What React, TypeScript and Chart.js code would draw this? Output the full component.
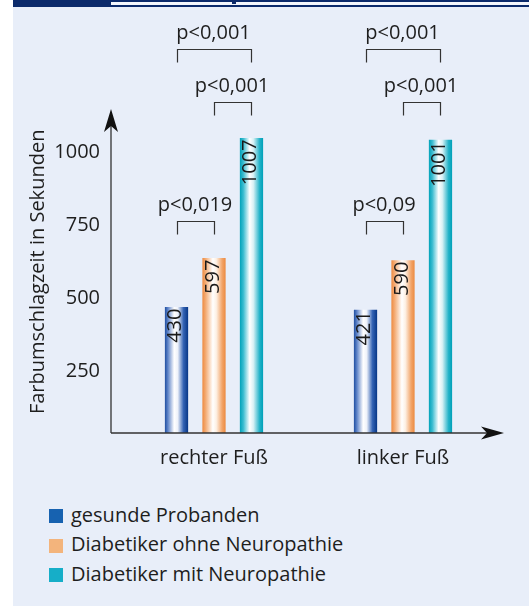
import React, { useEffect, useRef } from 'react';
import { Chart, registerables } from 'chart.js';

Chart.register(...registerables);

// ---- data ----
const categories = ['rechter Fuß', 'linker Fuß'];
const seriesNames = ['gesunde Probanden', 'Diabetiker ohne Neuropathie', 'Diabetiker mit Neuropathie'];
const gesundeProbanden = [430, 421];
const ohneNeuropathie = [597, 590];
const mitNeuropathie = [1007, 1001];
const yTicks = [250, 500, 750, 1000];
const yMax = 1100;
const yTitle = 'Farbumschlagzeit in Sekunden';
const significance = [
  { cat: 0, from: 0, to: 2, level: 1310, label: 'p<0,001' },
  { cat: 0, from: 1, to: 2, level: 1130, label: 'p<0,001' },
  { cat: 0, from: 0, to: 1, level: 723, label: 'p<0,019' },
  { cat: 1, from: 0, to: 2, level: 1310, label: 'p<0,001' },
  { cat: 1, from: 1, to: 2, level: 1130, label: 'p<0,001' },
  { cat: 1, from: 0, to: 1, level: 723, label: 'p<0,09' },
];

// ---- styles ----
const FONT = "'Open Sans', 'Noto Sans', sans-serif";
const TEXT = '#1e1e1e';
const LINE = '#333333';
const legendColors = ['#1762B0', '#F3B47C', '#16AEC8'];
const barStops: [number, string][][] = [
  [[0, '#1f4ea0'], [0.12, '#5a80c6'], [0.4, '#ffffff'], [0.55, '#eef2fa'], [0.8, '#3463b4'], [1, '#073686']],
  [[0, '#ee8a40'], [0.15, '#f4ae78'], [0.45, '#ffffff'], [0.6, '#fdf0e4'], [0.85, '#f2a468'], [1, '#ec8a40']],
  [[0, '#00a2b9'], [0.15, '#3bbcd0'], [0.42, '#ffffff'], [0.58, '#d9f1f5'], [0.85, '#22b2c8'], [1, '#00a0b8']],
];

const decorPlugin = {
  id: 'decor',
  beforeDatasetsDraw(chart: any) {
    const ctx = chart.ctx;
    chart.data.datasets.forEach((_ds: any, di: number) => {
      const meta = chart.getDatasetMeta(di);
      meta.data.forEach((el: any) => {
        const { x, width } = el.getProps(['x', 'width'], true);
        const g = ctx.createLinearGradient(x - width / 2, 0, x + width / 2, 0);
        barStops[di].forEach(([o, c]) => g.addColorStop(o, c));
        el.options = { ...el.options, backgroundColor: g };
      });
    });
  },
  afterDatasetsDraw(chart: any) {
    const ctx = chart.ctx;
    ctx.save();
    ctx.font = `20px ${FONT}`;
    ctx.fillStyle = '#1a1a1a';
    ctx.textAlign = 'right';
    ctx.textBaseline = 'middle';
    chart.data.datasets.forEach((ds: any, di: number) => {
      const meta = chart.getDatasetMeta(di);
      meta.data.forEach((el: any, i: number) => {
        ctx.save();
        ctx.translate(el.x - 1, el.y + 1.5);
        ctx.rotate(-Math.PI / 2);
        ctx.fillText(String(ds.data[i]), 0, 0);
        ctx.restore();
      });
    });
    ctx.restore();
  },
  afterDraw(chart: any) {
    const ctx = chart.ctx;
    const area = chart.chartArea;
    const yScale = chart.scales.y;
    ctx.save();
    // axes with arrows
    const ax = area.left - 8.5;
    const ay = area.bottom;
    const yTip = area.top - 1.7;
    const xTip = area.right + 6.5;
    ctx.strokeStyle = LINE;
    ctx.fillStyle = '#111';
    ctx.lineWidth = 1.3;
    ctx.beginPath();
    ctx.moveTo(ax, ay);
    ctx.lineTo(ax, yTip + 15);
    ctx.moveTo(ax, ay);
    ctx.lineTo(xTip - 15, ay);
    ctx.stroke();
    // y arrow
    ctx.beginPath();
    ctx.moveTo(ax, yTip);
    ctx.lineTo(ax + 7, yTip + 23);
    ctx.lineTo(ax, yTip + 17);
    ctx.lineTo(ax - 7, yTip + 23);
    ctx.closePath();
    ctx.fill();
    // x arrow
    ctx.beginPath();
    ctx.moveTo(xTip, ay);
    ctx.lineTo(xTip - 23, ay - 6.5);
    ctx.lineTo(xTip - 17, ay);
    ctx.lineTo(xTip - 23, ay + 6.5);
    ctx.closePath();
    ctx.fill();

    // significance brackets
    ctx.lineWidth = 1.2;
    ctx.strokeStyle = LINE;
    ctx.fillStyle = TEXT;
    ctx.font = `20px ${FONT}`;
    ctx.textAlign = 'center';
    ctx.textBaseline = 'alphabetic';
    significance.forEach((s) => {
      const e1 = chart.getDatasetMeta(s.from).data[s.cat];
      const e2 = chart.getDatasetMeta(s.to).data[s.cat];
      const x1 = Math.round(e1.x) + 0.5;
      const x2 = Math.round(e2.x) + 0.5;
      const y = Math.round(yScale.getPixelForValue(s.level)) + 0.5;
      ctx.beginPath();
      ctx.moveTo(x1, y + 13);
      ctx.lineTo(x1, y);
      ctx.lineTo(x2, y);
      ctx.lineTo(x2, y + 13);
      ctx.stroke();
      ctx.fillText(s.label, (x1 + x2) / 2 - 1, y - 11);
    });
    ctx.restore();
  },
};

function ChartCanvas() {
  const ref = useRef<HTMLCanvasElement | null>(null);
  useEffect(() => {
    let chart: Chart | null = null;
    let cancelled = false;
    const make = () => {
      if (cancelled || !ref.current) return;
      chart = new Chart(ref.current, {
        type: 'bar',
        data: {
          labels: categories,
          datasets: [
            { label: seriesNames[0], data: gesundeProbanden, backgroundColor: legendColors[0] },
            { label: seriesNames[1], data: ohneNeuropathie, backgroundColor: legendColors[1] },
            { label: seriesNames[2], data: mitNeuropathie, backgroundColor: legendColors[2] },
          ],
        },
        options: {
          responsive: false,
          animation: false,
          devicePixelRatio: 1,
          layout: { padding: { left: 26, top: 110.7, right: 31.5, bottom: 17 } },
          datasets: { bar: { categoryPercentage: 0.595, barPercentage: 0.62, borderWidth: 0 } },
          plugins: { legend: { display: false }, tooltip: { enabled: false } },
          scales: {
            x: {
              grid: { display: false, drawTicks: false },
              border: { display: false },
              ticks: { color: TEXT, font: { family: FONT, size: 20 }, padding: 13 },
              afterFit: (s: any) => { s.height = 40; },
            },
            y: {
              min: 0,
              max: yMax,
              grid: { display: false, drawTicks: false },
              border: { display: false },
              afterBuildTicks: (s: any) => { s.ticks = yTicks.map((v) => ({ value: v })); },
              ticks: {
                color: TEXT,
                font: { family: FONT, size: 20 },
                padding: 19.5,
                labelOffset: 12,
                callback: (v: any) => String(v),
              },
              title: { display: true, text: yTitle, color: TEXT, font: { family: FONT, size: 20 }, padding: { top: 0, bottom: 0 } },
              afterFit: (s: any) => { s.width = 93.5; },
            },
          },
        },
        plugins: [decorPlugin],
      });
    };
    const fonts: any = (document as any).fonts;
    if (fonts && fonts.load) {
      fonts.load(`20px 'Open Sans'`).then(make, make);
    } else make();
    return () => {
      cancelled = true;
      if (chart) chart.destroy();
    };
  }, []);
  return <canvas ref={ref} width={529} height={490} style={{ position: 'absolute', left: 0, top: 0, width: 529, height: 490 }} />;
}

export default function App() {
  const navy = '#0b2a6b';
  return (
    <div style={{ position: 'fixed', left: 0, top: 0, width: 529, height: 606, background: '#ffffff', overflow: 'hidden' }}>
      <div style={{ position: 'absolute', left: 13, top: 7, right: 0, bottom: 0, background: '#E8EEF9' }} />
      <div style={{ position: 'absolute', left: 13, top: 0, right: 0, height: 1.5, background: navy }} />
      <div style={{ position: 'absolute', left: 111, top: 1.5, right: 0, height: 3.5, background: '#f3f6fc' }} />
      <div style={{ position: 'absolute', left: 13, top: 0, width: 98, height: 7, background: navy }} />
      <div style={{ position: 'absolute', left: 13, top: 5, right: 0, height: 2, background: navy }} />
      <div style={{ position: 'absolute', left: 232, top: 0, width: 4, height: 4, background: navy }} />
      <ChartCanvas />
      <div style={{ position: 'absolute', left: 0, top: 499.9, width: 529 }}>
        {seriesNames.map((name, i) => (
          <div key={name} style={{ position: 'relative', height: 29.35 }}>
            <div style={{ position: 'absolute', left: 49.3, top: 9.5, width: 14, height: 14, background: legendColors[i] }} />
            <div style={{ position: 'absolute', left: 71, top: 0, lineHeight: '29.35px', fontSize: 20, fontFamily: FONT, color: TEXT, whiteSpace: 'nowrap' }}>{name}</div>
          </div>
        ))}
      </div>
    </div>
  );
}
